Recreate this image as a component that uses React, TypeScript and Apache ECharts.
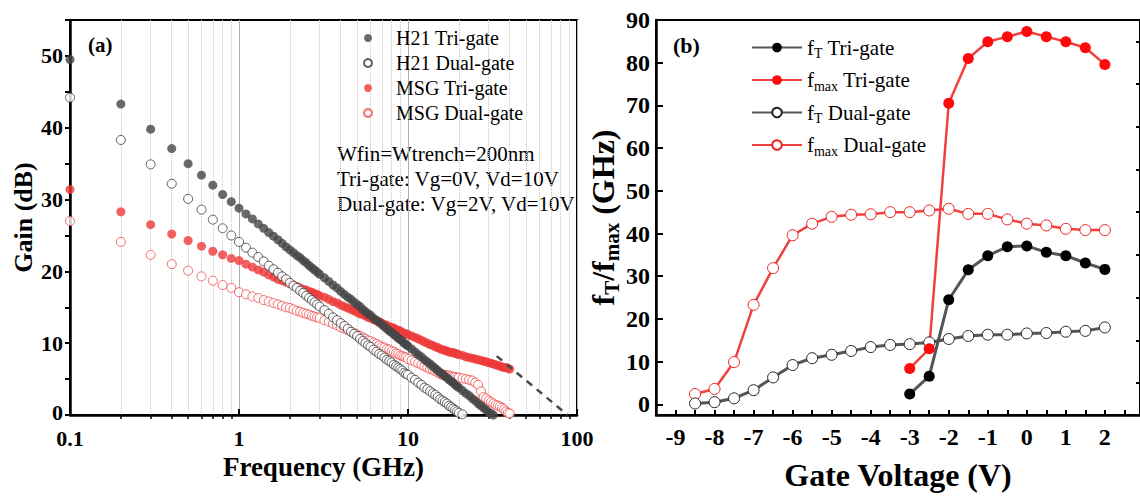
import React, { useEffect, useRef } from "react";
import * as echarts from "echarts";

const FONT = '"Liberation Serif", "Times New Roman", serif';

// ---------- Panel (a): gain vs frequency ----------
const FREQ = [
  0.1, 0.2, 0.3, 0.4, 0.5, 0.6, 0.7, 0.8, 0.9,
  1.0, 1.1, 1.2, 1.3, 1.4, 1.5, 1.6, 1.7, 1.8, 1.9, 2.0, 2.1, 2.2, 2.3, 2.4, 2.5, 2.6, 2.7, 2.8, 2.9, 3.0,
  3.2, 3.4, 3.6, 3.8, 4.0, 4.2, 4.4, 4.6, 4.8, 5.0, 5.2, 5.4, 5.6, 5.8, 6.0,
  6.25, 6.5, 6.75, 7, 7.25, 7.5, 7.75, 8, 8.25, 8.5, 8.75, 9, 9.25, 9.5, 9.75, 10,
  10.5, 11, 11.5, 12, 12.5, 13, 13.5, 14, 14.5, 15, 15.5, 16, 16.5, 17, 17.5, 18, 18.5, 19, 19.5, 20,
  21, 22, 23, 24, 25, 26, 27, 28, 29, 30, 31, 32, 33, 34, 35, 36, 37, 38, 39, 40,
];

const H21_TRI = [
  49.5, 43.3, 39.8, 37.1, 35.0, 33.4, 32.0, 30.7, 29.7,
  28.8, 28.0, 27.3, 26.6, 26.0, 25.4, 24.9, 24.4, 23.9, 23.4, 23.0, 22.6, 22.2, 21.9, 21.5, 21.2, 20.8, 20.5, 20.2, 19.9, 19.6,
  19.1, 18.6, 18.1, 17.7, 17.2, 16.8, 16.4, 16.1, 15.7, 15.4, 15.1, 14.7, 14.4, 14.1, 13.9,
  13.5, 13.2, 12.9, 12.6, 12.3, 12.0, 11.7, 11.5, 11.2, 11.0, 10.7, 10.5, 10.3, 10.0, 9.8, 9.6,
  9.2, 8.8, 8.4, 8.1, 7.7, 7.4, 7.1, 6.8, 6.5, 6.2, 5.9, 5.7, 5.4, 5.2, 4.9, 4.7, 4.5, 4.2, 4.0, 3.8,
  3.4, 3.0, 2.7, 2.3, 2.0, 1.6, 1.3, 1.0, 0.7, 0.4, 0.2, 0.0,
];

const H21_DUAL = [
  44.2, 38.3, 34.9, 32.2, 30.1, 28.6, 27.2, 26.0, 25.0,
  24.1, 23.3, 22.6, 22.0, 21.4, 20.8, 20.3, 19.8, 19.3, 18.9, 18.4, 18.0, 17.7, 17.3, 17.0, 16.6, 16.3, 16.0, 15.7, 15.4, 15.1,
  14.6, 14.1, 13.6, 13.2, 12.8, 12.4, 12.0, 11.6, 11.3, 11.0, 10.6, 10.3, 10.0, 9.7, 9.5,
  9.1, 8.8, 8.5, 8.3, 8.0, 7.7, 7.5, 7.3, 7.0, 6.8, 6.6, 6.4, 6.2, 5.9, 5.7, 5.6,
  5.2, 4.9, 4.5, 4.2, 3.8, 3.6, 3.3, 3.0, 2.8, 2.5, 2.2, 2.0, 1.8, 1.6, 1.3, 1.1, 0.9, 0.7, 0.5, 0.3,
  0.1,
];

const MSG_TRI = [
  31.4, 28.3, 26.5, 25.2, 24.3, 23.5, 22.8, 22.3, 21.8,
  21.5, 21.0, 20.6, 20.2, 19.9, 19.5, 19.2, 18.9, 18.7, 18.5, 18.3, 18.1, 17.9, 17.7, 17.5, 17.4, 17.2, 17.1, 16.9, 16.8, 16.6,
  16.4, 16.1, 15.8, 15.6, 15.3, 15.1, 14.9, 14.7, 14.5, 14.3, 14.1, 14.0, 13.8, 13.6, 13.5,
  13.3, 13.1, 13.0, 12.8, 12.6, 12.5, 12.3, 12.2, 12.1, 11.9, 11.8, 11.7, 11.5, 11.4, 11.3, 11.2,
  11.0, 10.8, 10.6, 10.4, 10.2, 10.0, 9.8, 9.7, 9.5, 9.4, 9.2, 9.1, 9.0, 8.9, 8.8, 8.7, 8.7, 8.6, 8.5, 8.4,
  8.3, 8.1, 8.0, 7.9, 7.8, 7.7, 7.6, 7.5, 7.4, 7.3, 7.2, 7.1, 7.0, 6.9, 6.8, 6.7, 6.6, 6.6, 6.5, 6.4,
];

const MSG_DUAL = [
  27.0, 24.1, 22.3, 21.0, 20.1, 19.3, 18.7, 18.1, 17.7,
  17.1, 16.8, 16.5, 16.3, 16.0, 15.8, 15.6, 15.4, 15.2, 15.0, 14.9, 14.7, 14.5, 14.4, 14.2, 14.1, 14.0, 13.8, 13.7, 13.6, 13.5,
  13.2, 13.0, 12.7, 12.5, 12.2, 12.0, 11.8, 11.6, 11.4, 11.2, 11.0, 10.8, 10.6, 10.4, 10.3,
  10.1, 9.9, 9.7, 9.5, 9.4, 9.2, 9.1, 8.9, 8.8, 8.6, 8.5, 8.3, 8.2, 8.1, 8.0, 7.8,
  7.6, 7.4, 7.2, 7.0, 6.8, 6.6, 6.4, 6.3, 6.1, 5.9, 5.7, 5.6, 5.6, 5.5, 5.5, 5.4, 5.3, 5.3, 5.2, 5.2,
  5.1, 5.0, 4.9, 4.8, 4.5, 4.2, 3.3, 2.5, 2.3, 2.0, 1.8, 1.6, 1.4, 1.3, 1.2, 1.0, 0.8, 0.5, 0.3, 0.2,
];

const EXTRAP_F = [33.5, 88];
const EXTRAP_G = [8.2, 0];

const FREQ_MINOR = [0.2, 0.3, 0.4, 0.5, 0.6, 0.7, 0.8, 0.9, 2, 3, 4, 5, 6, 7, 8, 9, 20, 30, 40, 50, 60, 70, 80, 90];

// ---------- Panel (b): fT / fmax vs gate voltage ----------
const VG_TRI = [-3, -2.5, -2, -1.5, -1, -0.5, 0, 0.5, 1, 1.5, 2];
const FT_TRI = [2.4, 6.6, 24.5, 31.5, 34.8, 36.9, 37.1, 35.6, 34.8, 33.1, 31.6];
const FMAX_TRI = [8.4, 13.0, 70.5, 81.0, 84.9, 86.1, 87.3, 86.1, 84.9, 83.5, 79.6];

const VG_DUAL = [-8.5, -8, -7.5, -7, -6.5, -6, -5.5, -5, -4.5, -4, -3.5, -3, -2.5, -2, -1.5, -1, -0.5, 0, 0.5, 1, 1.5, 2];
const FT_DUAL = [0.2, 0.5, 1.4, 3.3, 6.3, 9.2, 10.8, 11.6, 12.5, 13.4, 13.9, 14.1, 14.5, 15.3, 16.0, 16.3, 16.3, 16.6, 16.7, 17.0, 17.2, 18.0];
const FMAX_DUAL = [2.4, 3.6, 9.9, 23.3, 31.9, 39.6, 42.3, 43.9, 44.4, 44.5, 45.0, 45.0, 45.4, 45.8, 44.6, 44.6, 43.3, 42.3, 41.9, 41.1, 40.8, 40.8];

const VG_LABELS = [-9, -8, -7, -6, -5, -4, -3, -2, -1, 0, 1, 2];
const F_MAJOR = [0, 10, 20, 30, 40, 50, 60, 70, 80, 90];
const F_MINOR = [5, 15, 25, 35, 45, 55, 65, 75, 85];

const zip = (xs: number[], ys: number[]) => ys.map((y, i) => [xs[i], y]);

const LEGEND_B: Record<string, string> = {
  "fT Tri-gate": "f{s|T} Tri-gate",
  "fmax Tri-gate": "f{s|max} Tri-gate",
  "fT Dual-gate": "f{s|T} Dual-gate",
  "fmax Dual-gate": "f{s|max} Dual-gate",
};

export default function App() {
  const ref = useRef<HTMLDivElement>(null);

  useEffect(() => {
    if (!ref.current) return;
    const chart = echarts.init(ref.current, null, { renderer: "svg" });

    const labelA = { fontFamily: FONT, fontWeight: "bold" as const, fontSize: 22, color: "#000" };
    const labelB = { fontFamily: FONT, fontWeight: "bold" as const, fontSize: 24, color: "#000" };
    const nameBase = { fontFamily: FONT, fontWeight: "bold" as const, color: "#000" };
    const blackLine = { onZero: false, lineStyle: { color: "#000", width: 2.5 } };

    const darkGray = "#454545";
    const red = "#ee3a3a";

    const scatterBase = {
      type: "scatter" as const,
      xAxisIndex: 0,
      yAxisIndex: 0,
      symbol: "circle",
      symbolSize: 9,
      clip: true,
      emphasis: { disabled: true },
    };

    const lineBase = {
      type: "line" as const,
      xAxisIndex: 2,
      yAxisIndex: 1,
      symbol: "circle",
      symbolSize: 11,
      showSymbol: true,
      emphasis: { disabled: true },
    };

    const option: any = {
      animation: false,
      backgroundColor: "#fff",
      grid: [
        { left: 70, top: 20, width: 507, height: 395, show: true, borderColor: "#000", borderWidth: 2, backgroundColor: "transparent" },
        { left: 656, top: 20, width: 488, height: 395, show: true, borderColor: "#000", borderWidth: 2, backgroundColor: "transparent" },
      ],
      xAxis: [
        {
          type: "log",
          gridIndex: 0,
          logBase: 10,
          min: 0.1,
          max: 100,
          axisLine: blackLine,
          axisTick: { inside: true, length: 6, lineStyle: { color: "#000", width: 2 } },
          axisLabel: { ...labelA, margin: 13, lineHeight: 20 },
          splitLine: { show: true, lineStyle: { color: "#b0b0b0", width: 1 } },
          name: "Frequency (GHz)",
          nameLocation: "middle",
          nameGap: 33,
          nameTextStyle: { ...nameBase, fontSize: 27 },
        },
        {
          type: "log",
          gridIndex: 0,
          logBase: 10,
          min: 0.1,
          max: 100,
          axisLine: { show: false },
          axisLabel: { show: false },
          axisTick: { inside: true, length: 4, customValues: FREQ_MINOR, lineStyle: { color: "#000", width: 1.5 } },
          splitLine: { show: true, lineStyle: { color: "#c8c8c8", width: 1, type: "dotted" } },
        },
        {
          type: "value",
          gridIndex: 1,
          min: -9.5,
          max: 2.9,
          interval: 0.5,
          axisLine: blackLine,
          axisTick: { inside: true, length: 5, lineStyle: { color: "#000", width: 2 } },
          axisLabel: { ...labelB, margin: 10, customValues: VG_LABELS },
          splitLine: { show: false },
          name: "Gate Voltage (V)",
          nameLocation: "middle",
          nameGap: 44,
          nameTextStyle: { ...nameBase, fontSize: 32 },
        },
      ],
      yAxis: [
        {
          type: "value",
          gridIndex: 0,
          min: 0,
          max: 55,
          interval: 5,
          axisLine: { show: true, ...blackLine },
          axisTick: { show: true, inside: false, length: 5, lineStyle: { color: "#000", width: 2 } },
          axisLabel: {
            ...labelA,
            margin: 7,
            lineHeight: 17,
            formatter: (v: number) => (v === 0 ? "{z|0}" : v % 10 === 0 && v <= 50 ? String(v) : ""),
            rich: { z: { fontFamily: FONT, fontWeight: "bold", fontSize: 22, color: "#000", lineHeight: 17, padding: [0, 0, 5, 0] } },
          },
          splitLine: { show: false },
          name: "Gain (dB)",
          nameLocation: "middle",
          nameGap: 34,
          nameRotate: 90,
          nameTextStyle: { ...nameBase, fontSize: 26 },
        },
        {
          type: "value",
          gridIndex: 1,
          min: -2.5,
          max: 90,
          axisLine: { show: true, ...blackLine },
          axisTick: { show: true, inside: true, length: 7, customValues: F_MAJOR, lineStyle: { color: "#000", width: 2 } },
          axisLabel: { ...labelB, margin: 6, customValues: F_MAJOR },
          splitLine: { show: false },
          name: "f{s|T}/f{s|max} (GHz)",
          nameLocation: "middle",
          nameGap: 30,
          nameRotate: 90,
          nameTextStyle: {
            ...nameBase,
            fontSize: 32,
            rich: { s: { fontFamily: FONT, fontWeight: "bold", fontSize: 21, verticalAlign: "bottom", padding: [18, 0, 0, 0] } },
          },
        },
        {
          type: "value",
          gridIndex: 1,
          min: -2.5,
          max: 90,
          axisLine: { show: false, onZero: false },
          axisLabel: { show: false },
          axisTick: { show: true, inside: true, length: 4, customValues: F_MINOR, lineStyle: { color: "#000", width: 2 } },
          splitLine: { show: false },
        },
      ],
      legend: [
        {
          data: ["H21 Tri-gate", "H21 Dual-gate", "MSG Tri-gate", "MSG Dual-gate"],
          orient: "vertical",
          left: 358,
          top: 23,
          itemWidth: 46,
          itemHeight: 8,
          itemGap: 5,
          selectedMode: false,
          textStyle: { fontFamily: FONT, fontSize: 20, color: "#000" },
        },
        {
          data: ["fT Tri-gate", "fmax Tri-gate", "fT Dual-gate", "fmax Dual-gate"],
          orient: "vertical",
          left: 746,
          top: 32,
          itemWidth: 50,
          itemHeight: 12,
          itemGap: 9,
          selectedMode: false,
          formatter: (n: string) => LEGEND_B[n] || n,
          textStyle: {
            fontFamily: FONT,
            fontSize: 21,
            color: "#000",
            rich: { s: { fontFamily: FONT, fontSize: 14, color: "#000", verticalAlign: "bottom", padding: [12, 0, 0, 0] } },
          },
        },
      ],
      graphic: [
        { type: "text", left: 88, top: 34, style: { text: "(a)", fontFamily: FONT, fontWeight: "bold", fontSize: 21, fill: "#000" } },
        { type: "text", left: 673, top: 34, style: { text: "(b)", fontFamily: FONT, fontWeight: "bold", fontSize: 22, fill: "#000" } },
        { type: "text", left: 337, top: 143, style: { text: "Wfin=Wtrench=200nm", fontFamily: FONT, fontSize: 21, fill: "#000" } },
        { type: "text", left: 337, top: 168, style: { text: "Tri-gate: Vg=0V, Vd=10V", fontFamily: FONT, fontSize: 21, fill: "#000" } },
        { type: "text", left: 337, top: 193, style: { text: "Dual-gate: Vg=2V, Vd=10V", fontFamily: FONT, fontSize: 21, fill: "#000" } },
      ],
      series: [
        {
          ...scatterBase,
          name: "MSG Dual-gate",
          data: zip(FREQ, MSG_DUAL),
          itemStyle: { color: "#fff", borderColor: "#f04848", borderWidth: 1 },
        },
        {
          ...scatterBase,
          name: "MSG Tri-gate",
          data: zip(FREQ, MSG_TRI),
          itemStyle: { color: red },
        },
        {
          ...scatterBase,
          name: "H21 Dual-gate",
          data: zip(FREQ, H21_DUAL),
          itemStyle: { color: "#fff", borderColor: "#3a3a3a", borderWidth: 1 },
        },
        {
          ...scatterBase,
          name: "H21 Tri-gate",
          data: zip(FREQ, H21_TRI),
          itemStyle: { color: darkGray },
        },
        {
          type: "line",
          name: "extrapolation",
          xAxisIndex: 0,
          yAxisIndex: 0,
          data: zip(EXTRAP_F, EXTRAP_G),
          symbol: "none",
          lineStyle: { color: "#4a4a4a", width: 2.5, type: [7, 6] },
          emphasis: { disabled: true },
          z: 5,
        },
        {
          ...lineBase,
          name: "fmax Dual-gate",
          data: zip(VG_DUAL, FMAX_DUAL),
          lineStyle: { color: "#f04040", width: 2.5 },
          itemStyle: { color: "#fff", borderColor: "#f02020", borderWidth: 1 },
        },
        {
          ...lineBase,
          name: "fT Dual-gate",
          data: zip(VG_DUAL, FT_DUAL),
          lineStyle: { color: "#555", width: 3 },
          itemStyle: { color: "#fff", borderColor: "#222", borderWidth: 1 },
        },
        {
          ...lineBase,
          name: "fmax Tri-gate",
          data: zip(VG_TRI, FMAX_TRI),
          lineStyle: { color: "#f04040", width: 2.5 },
          itemStyle: { color: "#ff0a0a" },
        },
        {
          ...lineBase,
          name: "fT Tri-gate",
          data: zip(VG_TRI, FT_TRI),
          lineStyle: { color: "#555", width: 3 },
          itemStyle: { color: "#000" },
        },
      ],
    };

    chart.setOption(option);
    return () => chart.dispose();
  }, []);

  return (
    <div
      ref={ref}
      style={{ position: "fixed", left: 0, top: 0, width: 1140, height: 496, background: "#fff" }}
    />
  );
}
